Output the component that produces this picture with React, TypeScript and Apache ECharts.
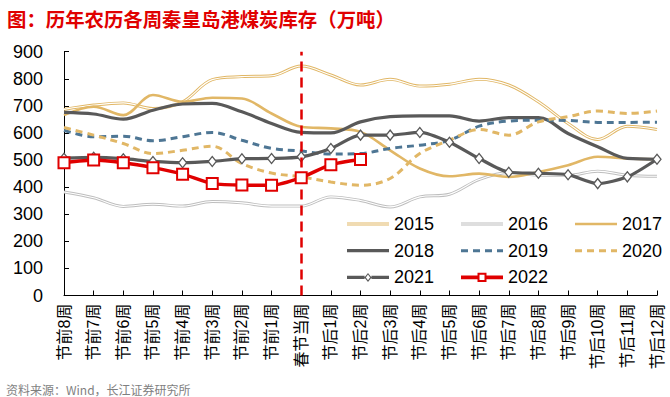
import React, { useEffect, useRef } from "react";
import * as echarts from "echarts";

const categories = [
  "节前8周", "节前7周", "节前6周", "节前5周", "节前4周", "节前3周", "节前2周", "节前1周",
  "春节当周",
  "节后1周", "节后2周", "节后3周", "节后4周", "节后5周", "节后6周", "节后7周", "节后8周",
  "节后9周", "节后10周", "节后11周", "节后12周",
];

const y2015 = [687, 703, 711, 690, 715, 797, 808, 811, 847, 814, 777, 798, 773, 780, 798, 777, 715, 635, 576, 625, 613];
const y2016 = [382, 361, 329, 337, 330, 347, 342, 330, 330, 364, 351, 327, 364, 374, 428, 454, 444, 444, 459, 444, 440];
const y2017 = [666, 697, 666, 740, 715, 730, 727, 672, 623, 617, 604, 536, 469, 440, 450, 438, 456, 481, 512, 506, 503];
const y2018 = [676, 670, 651, 684, 707, 709, 678, 635, 602, 600, 641, 660, 663, 663, 644, 657, 657, 598, 549, 506, 503];
const y2019 = [610, 586, 588, 571, 586, 602, 573, 543, 533, 522, 524, 543, 555, 573, 625, 644, 647, 646, 639, 639, 640];
const y2020 = [620, 592, 561, 524, 536, 551, 487, 452, 438, 419, 407, 432, 524, 573, 613, 592, 641, 660, 681, 672, 681];
const y2021 = [507, 510, 505, 495, 490, 495, 505, 506, 512, 543, 592, 592, 602, 566, 506, 455, 451, 446, 413, 438, 503];
const y2022 = [490, 500, 490, 472, 448, 413, 408, 407, 435, 483, 502];

const festivalWeek = "春节当周";

const GOLD = "#E1B766";
const LGRAY = "#BEBEBE";
const DGRAY = "#595959";
const BLUE = "#4E7694";
const RED = "#E00000";

// legend icons (42 x 10 box, corner dots fix the box)
const BOX = "M0,0L0.01,0L0,0.01Z M42,10L41.99,10L42,9.99Z ";
const iconHollow = "path://" + BOX + "M0,3.5H42V6.5H0Z M0,4.5V5.5H42V4.5Z";
const iconSolidThin = "path://" + BOX + "M0,3.7H42V6.3H0Z";
const iconSolid = "path://" + BOX + "M0,3.4H42V6.6H0Z";
const iconDash =
  "path://" + BOX +
  "M0,3.5H7V6.5H0Z M12,3.5H19V6.5H12Z M24,3.5H31V6.5H24Z M36,3.5H42V6.5H36Z";
const iconDiamond =
  "path://" + BOX +
  "M0,3.4H17.6V6.6H0Z M24.4,3.4H42V6.6H24.4Z " +
  "M21,0.5L24.6,5L21,9.5L17.4,5Z M21,2.2L18.9,5L21,7.8L23.1,5Z";
const iconSquare =
  "path://" + BOX +
  "M0,3.1H16.5V6.9H0Z M25.5,3.1H42V6.9H25.5Z " +
  "M16.5,0.4H25.5V9.6H16.5Z M18.5,2.4V7.6H23.5V2.4Z";

const legendItem = (name: string, icon: string, color: string) => ({
  name,
  icon,
  itemStyle: { color, borderWidth: 0, borderColor: "transparent" },
});

export default function App() {
  const ref = useRef<HTMLDivElement>(null);
  useEffect(() => {
    if (!ref.current) return;
    const chart = echarts.init(ref.current, undefined, { renderer: "svg" });
    const font = "Liberation Sans, Arial, Noto Sans CJK SC, sans-serif";
    const smooth = 0.35;
    const lineSeries = (name: string, data: number[], color: string, width: number, extra: any = {}) => ({
      name,
      type: "line",
      data,
      smooth,
      symbol: "none",
      itemStyle: { color },
      lineStyle: { color, width },
      ...extra,
    });
    const innerSeries = (data: number[]) => ({
      name: "_inner",
      type: "line",
      data,
      smooth,
      symbol: "none",
      silent: true,
      itemStyle: { color: "#fff" },
      lineStyle: { color: "#fff", width: 1.1 },
    });
    const legendBase = {
      orient: "vertical",
      padding: 0,
      itemWidth: 42,
      itemHeight: 10,
      itemGap: 8.7,
      textStyle: { fontSize: 18, color: "#000", fontFamily: font, lineHeight: 18 },
    };
    const option: any = {
      animation: false,
      title: [
        {
          text: "图：历年农历各周秦皇岛港煤炭库存（万吨）",
          left: 2,
          top: 4,
          textStyle: { color: RED, fontSize: 19.4, fontWeight: "bold", fontFamily: "Noto Sans CJK SC" },
        },
        {
          text: "资料来源：Wind，长江证券研究所",
          left: 1,
          top: 378,
          textStyle: { color: "#7F7F7F", fontSize: 12, fontWeight: "normal", fontFamily: "Noto Sans CJK SC" },
        },
      ],
      legend: [
        {
          ...legendBase,
          left: 347,
          top: 215,
          data: [
            legendItem("2015", iconHollow, GOLD),
            legendItem("2018", iconSolid, DGRAY),
            legendItem("2021", iconDiamond, DGRAY),
          ],
        },
        {
          ...legendBase,
          left: 461,
          top: 215,
          data: [
            legendItem("2016", iconHollow, LGRAY),
            legendItem("2019", iconDash, BLUE),
            legendItem("2022", iconSquare, RED),
          ],
        },
        {
          ...legendBase,
          left: 575,
          top: 215,
          data: [legendItem("2017", iconSolidThin, GOLD), legendItem("2020", iconDash, GOLD)],
        },
      ],
      grid: { left: 64, right: 13, top: 51.7, bottom: 101.5, containLabel: false },
      xAxis: {
        type: "category",
        data: categories,
        boundaryGap: false,
        axisLine: { lineStyle: { color: "#000", width: 1 } },
        axisTick: { inside: true, length: 5, lineStyle: { color: "#000" } },
        axisLabel: { rotate: 90, fontSize: 16, color: "#000", margin: 8, interval: 0, fontFamily: font },
      },
      yAxis: {
        type: "value",
        min: 0,
        max: 900,
        interval: 100,
        axisLine: { show: true, lineStyle: { color: "#000", width: 1 } },
        axisTick: { show: true, inside: true, length: 5, lineStyle: { color: "#000" } },
        splitLine: { show: false },
        axisLabel: { fontSize: 18, color: "#000", margin: 21, fontFamily: font },
      },
      series: [
        lineSeries("2015", y2015, GOLD, 3.0),
        innerSeries(y2015),
        lineSeries("2016", y2016, LGRAY, 3.0),
        innerSeries(y2016),
        lineSeries("2017", y2017, GOLD, 2.6),
        lineSeries("2018", y2018, DGRAY, 3.2),
        lineSeries("2019", y2019, BLUE, 3, { lineStyle: { color: BLUE, width: 3, type: [7, 5] } }),
        lineSeries("2020", y2020, GOLD, 3, { lineStyle: { color: GOLD, width: 3, type: [7, 5] } }),
        {
          name: "2021",
          type: "line",
          data: y2021,
          smooth: 0.25,
          symbol: "diamond",
          symbolSize: [8, 10],
          itemStyle: { color: "#fff", borderColor: DGRAY, borderWidth: 1.3 },
          lineStyle: { color: DGRAY, width: 3.2 },
        },
        {
          name: "2022",
          type: "line",
          data: y2022,
          smooth: 0.2,
          symbol: "rect",
          symbolSize: 11,
          z: 5,
          itemStyle: { color: "#fff", borderColor: RED, borderWidth: 2 },
          lineStyle: { color: RED, width: 3.5 },
          markLine: {
            silent: true,
            symbol: "none",
            label: { show: false },
            lineStyle: { color: RED, width: 2.5, type: [10, 6] },
            data: [{ xAxis: festivalWeek }],
          },
        },
      ],
    };
    chart.setOption(option);
    return () => chart.dispose();
  }, []);
  return (
    <div
      ref={ref}
      style={{ position: "fixed", left: 0, top: 0, width: 670, height: 397, background: "#fff" }}
    />
  );
}
